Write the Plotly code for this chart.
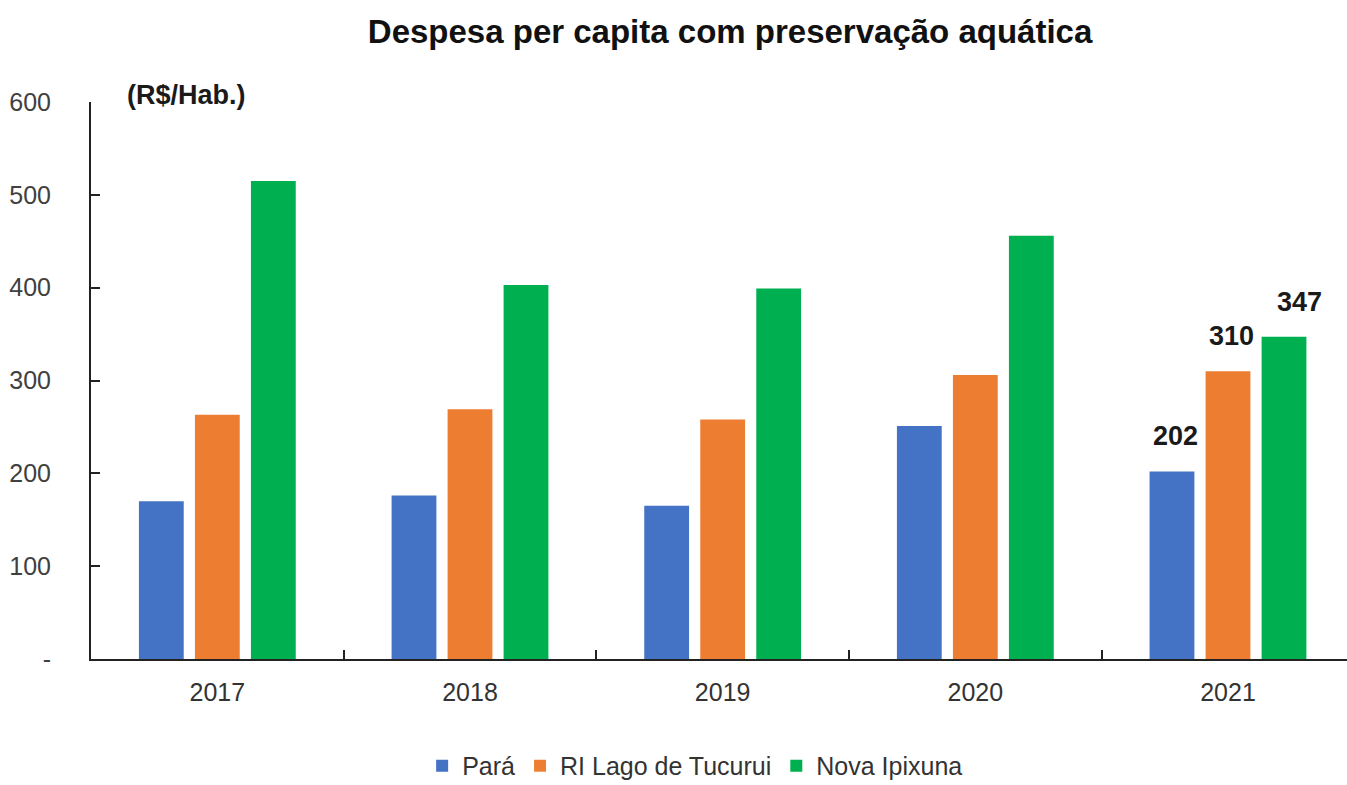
import plotly.graph_objects as go

years = ["2017", "2018", "2019", "2020", "2021"]
para = [170, 176, 165, 251, 202]
ri_tucurui = [263, 269, 258, 306, 310]
nova_ipixuna = [515, 403, 399, 456, 347]
series_names = ["Pará", "RI Lago de Tucurui", "Nova Ipixuna"]
colors = ["#4472C4", "#ED7D31", "#00B050"]
y_ticks = [0, 100, 200, 300, 400, 500, 600]
y_ticktext = ["-", "100", "200", "300", "400", "500", "600"]

FONT = "Liberation Sans, Arial, sans-serif"

fig = go.Figure()
for name, vals, col in zip(series_names, [para, ri_tucurui, nova_ipixuna], colors):
    fig.add_trace(go.Bar(x=years, y=vals, name=name, marker_color=col, marker_line_width=0))

# value labels for the last year
last_idx = len(years) - 1
label_xshift = [-52, 4, 72]
for i, vals in enumerate([para, ri_tucurui, nova_ipixuna]):
    fig.add_annotation(x=last_idx, y=vals[-1], text=f"<b>{vals[-1]}</b>", showarrow=False,
                       yanchor="middle", yshift=35, xshift=label_xshift[i],
                       font=dict(size=27, color="#1a1a1a", family=FONT))

fig.add_annotation(xref="paper", yref="paper", x=0.027, y=1.0, xanchor="left", yanchor="middle",
                   yshift=7, text="<b>(R$/Hab.)</b>", showarrow=False,
                   font=dict(size=27, color="#1a1a1a", family=FONT))

fig.update_layout(
    width=1347, height=785,
    margin=dict(l=91, r=0, t=102, b=126, autoexpand=False),
    paper_bgcolor="white", plot_bgcolor="white",
    font=dict(family=FONT, color="#404040", size=25),
    title=dict(text="<b>Despesa per capita com preservação aquática</b>", x=0.542, xanchor="center",
               y=0.96, yanchor="middle", font=dict(size=33, color="#111111", family=FONT)),
    barmode="group", bargap=0.335, bargroupgap=0.2,
    showlegend=True,
    legend=dict(orientation="h", x=0.481, xanchor="center", y=-0.192, yanchor="middle",
                font=dict(size=25, color="#333333", family=FONT), itemwidth=30,
                traceorder="normal"),
)
fig.update_xaxes(type="category", range=[-0.5, 4.471], showline=True, linecolor="#222222", linewidth=2,
                 ticks="inside", tickson="boundaries", ticklen=9, tickcolor="#222222", tickwidth=1.5,
                 ticklabelstandoff=10, tickfont=dict(size=25, color="#333333"), showgrid=False,
                 automargin=False)
fig.update_yaxes(range=[0, 600], showline=True, linecolor="#222222", linewidth=2,
                 ticks="inside", ticklen=9, tickcolor="#222222", tickwidth=1.5,
                 tickvals=y_ticks, ticktext=y_ticktext, ticklabelstandoff=33,
                 tickfont=dict(size=25, color="#404040"), showgrid=False, zeroline=False,
                 automargin=False)

fig.write_html("out.html", config={"displayModeBar": False},
               post_script="document.body.style.margin='0px';document.body.style.overflow='hidden';")
